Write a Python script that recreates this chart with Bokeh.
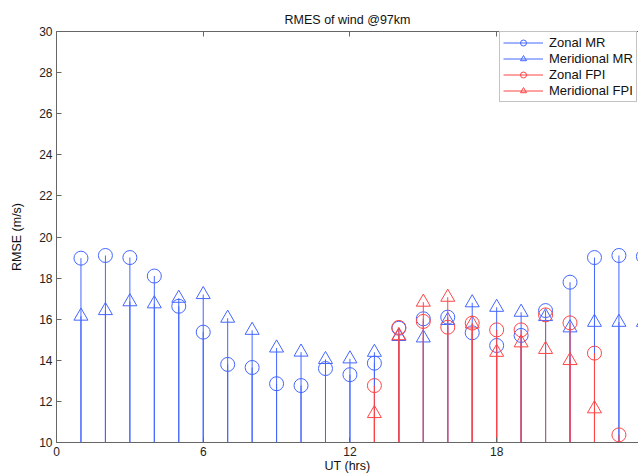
from bokeh.plotting import figure
from bokeh.models import Range1d, LinearAxis, FixedTicker, Legend, LegendItem, ColumnDataSource
from bokeh.embed import file_html
from bokeh.resources import INLINE

# ---- data ----
hours_mr = list(range(1, 25))
zonal_mr = [18.97, 19.1, 19.0, 18.1, 16.63, 15.37, 13.8, 13.65, 12.86, 12.77, 13.6, 13.3,
            13.86, 15.56, 16.02, 16.1, 15.34, 14.72, 15.21, 16.42, 17.8, 19.0, 19.1, 19.05]
meridional_mr = [16.15, 16.42, 16.85, 16.75, 17.02, 17.2, 16.05, 15.46, 14.6, 14.4, 14.04, 14.07,
                 14.39, 15.16, 15.09, 15.94, 16.8, 16.58, 16.34, 16.13, 15.58, 15.85, 15.85, 15.85]
hours_zfpi = list(range(13, 24))
zonal_fpi = [12.77, 15.6, 15.89, 15.61, 15.81, 15.48, 15.48, 16.21, 15.82, 14.35, 10.37]
hours_mfpi = list(range(13, 23))
meridional_fpi = [11.41, 15.2, 16.83, 17.07, 15.77, 14.39, 14.85, 14.53, 13.99, 11.64]

x_ticks = [0, 6, 12, 18, 24]
y_ticks = [10, 12, 14, 16, 18, 20, 22, 24, 26, 28, 30]
baseline = 0

BLUE = "#4466ff"
RED = "#ff4444"
AXC = "#666666"
FONT = "Liberation Sans"

p = figure(width=638, height=475, x_range=Range1d(0, 23.8), y_range=Range1d(10, 30),
           output_backend="svg", toolbar_location=None,
           min_border_left=56, min_border_right=0, min_border_top=31, min_border_bottom=33)
p.outline_line_color = None
p.grid.visible = False
p.background_fill_color = "white"

p.title.text = "RMES of wind @97km"
p.title.align = "center"
p.title.text_font = FONT
p.title.text_font_size = "12.5px"
p.title.text_font_style = "normal"
p.title.text_color = "#111111"

def style_axis(ax):
    ax.axis_line_color = AXC
    ax.major_tick_line_color = AXC
    ax.major_tick_in = 5
    ax.major_tick_out = 0
    ax.minor_tick_line_color = None
    ax.major_label_text_font = FONT
    ax.major_label_text_font_size = "12px"
    ax.major_label_text_color = "#222222"
    ax.axis_label_text_font = FONT
    ax.axis_label_text_font_size = "12.5px"
    ax.axis_label_text_font_style = "normal"
    ax.axis_label_text_color = "#111111"

xa = p.xaxis[0]
xa.ticker = FixedTicker(ticks=x_ticks)
xa.axis_label = "UT (hrs)"
style_axis(xa)
xa.major_label_standoff = 4
xa.axis_label_standoff = 0

ya = p.yaxis[0]
ya.ticker = FixedTicker(ticks=y_ticks)
ya.axis_label = "RMSE (m/s)"
style_axis(ya)
ya.major_label_standoff = 4
ya.axis_label_standoff = 12

top = LinearAxis(ticker=FixedTicker(ticks=x_ticks))
style_axis(top)
top.major_label_overrides = {t: "" for t in x_ticks}
top.major_label_standoff = 0
p.add_layout(top, "above")

def stem(xs, ys, color, marker):
    src = ColumnDataSource(dict(x=xs, y=ys, y0=[baseline] * len(xs)))
    seg = p.segment(x0="x", y0="y0", x1="x", y1="y", source=src, line_color=color, line_width=1)
    sc = p.scatter(x="x", y="y", source=src, marker=marker, size=14,
                   line_color=color, fill_color=None, line_width=1)
    return [seg, sc]

r1 = stem(hours_mr, zonal_mr, BLUE, "circle")
r2 = stem(hours_mr, meridional_mr, BLUE, "triangle")
r3 = stem(hours_zfpi, zonal_fpi, RED, "circle")
r4 = stem(hours_mfpi, meridional_fpi, RED, "triangle")

legend = Legend(items=[LegendItem(label="Zonal MR", renderers=r1),
                       LegendItem(label="Meridional MR", renderers=r2),
                       LegendItem(label="Zonal FPI", renderers=r3),
                       LegendItem(label="Meridional FPI", renderers=r4)],
                location=(443, 340))
legend.margin = 0
legend.padding = 3
legend.spacing = 1
legend.glyph_width = 40
legend.glyph_height = 15
legend.label_height = 15
legend.label_standoff = 6
legend.label_text_font = FONT
legend.label_text_font_size = "13px"
legend.label_text_color = "#111111"
legend.border_line_color = "#888888"
legend.border_line_width = 1
legend.background_fill_alpha = 1
p.add_layout(legend)

open("out.html", "w").write(file_html(p, INLINE))
